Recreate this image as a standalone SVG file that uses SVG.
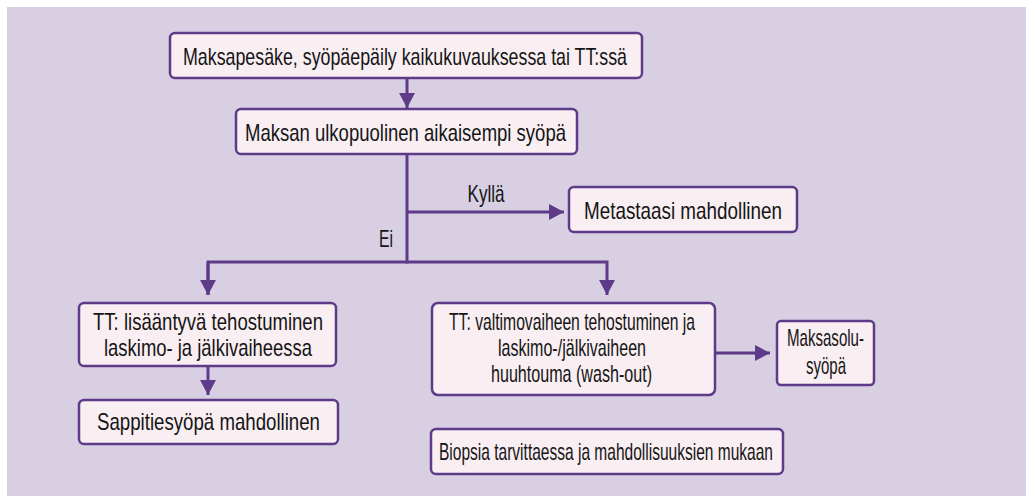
<svg xmlns="http://www.w3.org/2000/svg" width="1026" height="496" viewBox="0 0 1026 496">
<defs>
<style>
.bg{fill:#d8cfe3}
.box{fill:#f9eef2;stroke:#5e3b88;stroke-width:2.5}
.ln{fill:none;stroke:#5e3b88;stroke-width:3}
.t{font-family:"Liberation Sans",Arial,sans-serif;font-size:24px;fill:#151515;text-anchor:middle}
</style>
<marker id="ah" markerUnits="userSpaceOnUse" markerWidth="15" markerHeight="16" viewBox="0 0 15 16" refX="15" refY="8" orient="auto">
<path d="M0,0 L15,8 L0,16 z" fill="#5e3b88"/>
</marker>
</defs>
<rect class="bg" x="7" y="7" width="1019" height="489"/>
<g id="connectors">
<line class="ln" x1="407" y1="78" x2="407" y2="108" marker-end="url(#ah)"/>
<line class="ln" x1="407" y1="154" x2="407" y2="263.5"/>
<line class="ln" x1="407" y1="212" x2="564" y2="212" marker-end="url(#ah)"/>
<polyline class="ln" points="208,295 208,262 607,262 607,295" marker-end="url(#ah)"/>
<line class="ln" x1="208" y1="263" x2="208" y2="295" marker-end="url(#ah)"/>
<line class="ln" x1="208" y1="366" x2="208" y2="395" marker-end="url(#ah)"/>
<line class="ln" x1="715" y1="353" x2="770" y2="353" marker-end="url(#ah)"/>
<text class="t" x="486" y="202" textLength="37" lengthAdjust="spacingAndGlyphs">Kyllä</text>
<text class="t" x="386" y="247" textLength="14" lengthAdjust="spacingAndGlyphs">Ei</text>
</g>
<g id="n1">
<rect class="box" x="170" y="33" width="472" height="45" rx="5"/>
<text class="t" x="405" y="65" textLength="444" lengthAdjust="spacingAndGlyphs">Maksapesäke, syöpäepäily kaikukuvauksessa tai TT:ssä</text>
</g>
<g id="n2">
<rect class="box" x="236" y="109" width="341" height="45" rx="5"/>
<text class="t" x="405.5" y="141" textLength="321" lengthAdjust="spacingAndGlyphs">Maksan ulkopuolinen aikaisempi syöpä</text>
</g>
<g id="n3">
<rect class="box" x="569" y="187" width="228" height="45" rx="5"/>
<text class="t" x="683" y="219" textLength="198" lengthAdjust="spacingAndGlyphs">Metastaasi mahdollinen</text>
</g>
<g id="n4">
<rect class="box" x="79" y="303" width="257" height="63" rx="5"/>
<text class="t" x="208" y="330" textLength="230" lengthAdjust="spacingAndGlyphs">TT: lisääntyvä tehostuminen</text>
<text class="t" x="208" y="356" textLength="208" lengthAdjust="spacingAndGlyphs">laskimo- ja jälkivaiheessa</text>
</g>
<g id="n5">
<rect class="box" x="79" y="400" width="259" height="44" rx="5"/>
<text class="t" x="208.5" y="430" textLength="223" lengthAdjust="spacingAndGlyphs">Sappitiesyöpä mahdollinen</text>
</g>
<g id="n6">
<rect class="box" x="432" y="303" width="283" height="92" rx="6"/>
<text class="t" x="572" y="330" textLength="246" lengthAdjust="spacingAndGlyphs">TT: valtimovaiheen tehostuminen ja</text>
<text class="t" x="572" y="356" textLength="148" lengthAdjust="spacingAndGlyphs">laskimo-/jälkivaiheen</text>
<text class="t" x="571.5" y="382" textLength="161" lengthAdjust="spacingAndGlyphs">huuhtouma (wash-out)</text>
</g>
<g id="n7">
<rect class="box" x="777" y="321" width="97" height="64" rx="4"/>
<text class="t" x="825.5" y="346" textLength="77" lengthAdjust="spacingAndGlyphs">Maksasolu-</text>
<text class="t" x="826" y="374" textLength="40" lengthAdjust="spacingAndGlyphs">syöpä</text>
</g>
<g id="n8">
<rect class="box" x="431" y="429" width="352" height="45" rx="5"/>
<text class="t" x="606" y="460" textLength="334" lengthAdjust="spacingAndGlyphs">Biopsia tarvittaessa ja mahdollisuuksien mukaan</text>
</g>
</svg>
